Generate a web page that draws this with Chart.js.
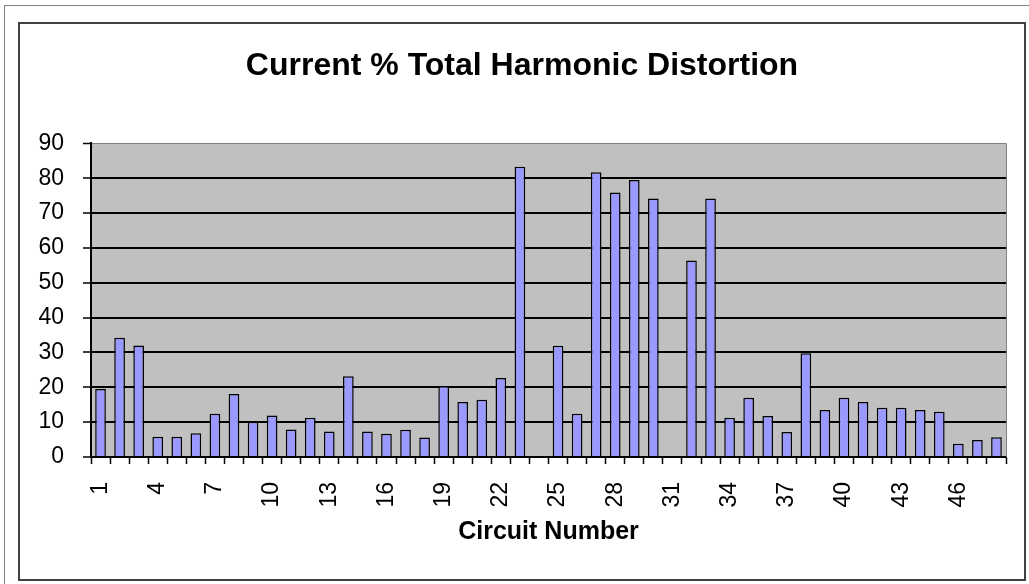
<!DOCTYPE html>
<html>
<head>
<meta charset="utf-8">
<script src="https://cdn.jsdelivr.net/npm/chart.js@4/dist/chart.umd.min.js"></script>
<style>
  body { margin: 0; background: #fff; width: 1029px; height: 584px; overflow: hidden; position: relative; }
  #outer { position: absolute; left: 4px; top: 5px; right: 0; bottom: 0; border-left: 1px solid #808080; border-top: 1px solid #808080; }
  #frame { position: absolute; left: 18px; top: 22px; width: 1004px; height: 555px; border: 2px solid #404040; }
  #chart { position: absolute; left: 0; top: 0; }
</style>
</head>
<body>
<div id="outer"></div>
<div id="frame"></div>
<canvas id="chart" width="1029" height="584"></canvas>
<script>
// Circuit numbers along the x axis
const circuits = ['1', '2', '3', '4', '5', '6', '7', '8', '9', '10', '11', '12',
    '13', '14', '15', '16', '17', '18', '19', '20', '21', '22', '23', '24',
    '25', '26', '27', '28', '29', '30', '31', '32', '33', '34', '35', '36',
    '37', '38', '39', '40', '41', '42', '43', '44', '45', '46', '47', '48'];

// Current THD in percent (null = no bar)
const thdValues = [19.5, 34.2, 32.0, 5.8, 5.8, 6.8, 12.4, 18.1, 10.1, 11.9, 7.9, 11.3,
    7.3, 23.2, 7.3, 6.7, 7.8, 5.6, 20.4, 15.8, 16.4, 22.7, 83.3, null,
    31.9, 12.4, 81.7, 75.9, 79.5, 74.2, null, 56.4, 74.2, 11.3, 17.0, 11.8,
    7.2, 29.8, 13.5, 17.0, 15.8, 14.1, 14.1, 13.5, 13.0, 3.8, 4.9, 5.7];

// Only every third circuit gets a label
const labelEvery = 3;
const yTicks = [0, 10, 20, 30, 40, 50, 60, 70, 80, 90];

const tickFont = "'Liberation Sans Narrow', 'Arial Narrow', 'Liberation Sans', Arial, sans-serif";
Chart.defaults.font.family = "'Liberation Sans', Arial, sans-serif";
Chart.defaults.color = '#000';

// Grey plot background plus the grey right edge
const plotArea = {
    id: 'plotArea',
    beforeDraw(chart) {
        const { ctx, chartArea: a } = chart;
        ctx.save();
        ctx.fillStyle = '#c0c0c0';
        ctx.fillRect(a.left, a.top, a.right - a.left, a.bottom - a.top);
        ctx.restore();
    },
    afterDraw(chart) {
        const { ctx, chartArea: a } = chart;
        ctx.save();
        ctx.strokeStyle = '#808080';
        ctx.lineWidth = 1;
        ctx.beginPath();
        ctx.moveTo(a.right + 0.5, a.top);
        ctx.lineTo(a.right + 0.5, a.bottom);
        ctx.stroke();
        ctx.restore();
    }
};

new Chart(document.getElementById('chart'), {
    type: 'bar',
    data: {
        labels: circuits,
        datasets: [{
            label: 'Current % THD',
            data: thdValues,
            backgroundColor: '#9999ff',
            borderColor: '#000',
            borderWidth: 1.5,
            barPercentage: 0.56,
            categoryPercentage: 1
        }]
    },
    options: {
        responsive: false,
        animation: false,
        layout: {
            padding: { left: 38, right: 23, top: 0, bottom: 0 }
        },
        plugins: {
            legend: { display: false },
            tooltip: { enabled: false },
            title: {
                display: true,
                text: 'Current % Total Harmonic Distortion',
                font: { size: 32, weight: 'bold' },
                color: '#000',
                padding: { top: 47, bottom: 58 }
            }
        },
        scales: {
            x: {
                offset: true,
                afterFit: function(scale) {
                    scale.height = 127;
                    scale.paddingLeft = 0;
                    scale.paddingRight = 0;
                },
                border: { display: true, color: '#000', width: 2 },
                grid: {
                    offset: true,
                    drawOnChartArea: false,
                    drawTicks: true,
                    tickLength: 7,
                    tickColor: '#000',
                    tickWidth: 1.5
                },
                ticks: {
                    autoSkip: false,
                    minRotation: 90,
                    maxRotation: 90,
                    padding: 18,
                    font: { size: 23, family: tickFont },
                    callback: function(value, index) {
                        return index % labelEvery === 0 ? circuits[index] : '';
                    }
                },
                title: {
                    display: true,
                    text: 'Circuit Number',
                    font: { size: 25, weight: 'bold' },
                    padding: { top: 0, bottom: 37 }
                }
            },
            y: {
                min: 0,
                max: 90,
                afterFit: function(scale) { scale.width = 53; },
                afterBuildTicks: function(scale) {
                    scale.ticks = yTicks.map(v => ({ value: v }));
                },
                border: { display: true, color: '#000', width: 2 },
                grid: {
                    color: function(ctx) {
                        return ctx.tick && ctx.tick.value === 90 ? '#808080' : '#000';
                    },
                    lineWidth: function(ctx) {
                        return ctx.tick && ctx.tick.value === 90 ? 1 : 2;
                    },
                    tickColor: '#000',
                    tickLength: 8,
                    tickWidth: 1.5
                },
                ticks: {
                    padding: 19,
                    font: { size: 23, family: tickFont }
                }
            }
        }
    },
    plugins: [plotArea]
});
</script>
</body>
</html>
